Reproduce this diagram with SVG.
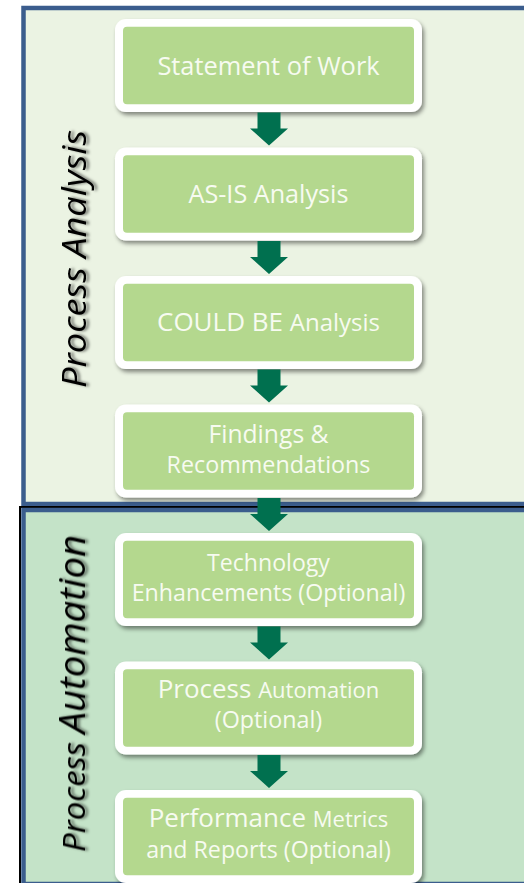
<svg xmlns="http://www.w3.org/2000/svg" xmlns:xlink="http://www.w3.org/1999/xlink" width="524" height="883" viewBox="0 0 524 883">
  <style>
    .box-outer { fill: #ffffff; }
    .box-inner { fill: #b4d88e; }
    .box-text { font-family: "Open Sans", "DejaVu Sans", sans-serif; fill: #f7fbf1; text-anchor: middle; }
    .side-text { font-family: "Open Sans", "DejaVu Sans", sans-serif; font-style: italic; fill: #000000; text-anchor: middle; }
    .arrow { fill: #00704f; }
  </style>
  <defs>
    <filter id="boxShadow" x="-10%" y="-10%" width="125%" height="135%">
      <feGaussianBlur in="SourceAlpha" stdDeviation="2"/>
      <feOffset dx="2" dy="3" result="off"/>
      <feFlood flood-color="#000" flood-opacity="0.45"/>
      <feComposite in2="off" operator="in"/>
      <feMerge><feMergeNode/><feMergeNode in="SourceGraphic"/></feMerge>
    </filter>
    <filter id="textShadow" x="-10%" y="-40%" width="120%" height="200%">
      <feGaussianBlur in="SourceAlpha" stdDeviation="1.6"/>
      <feOffset dx="0" dy="3" result="off"/>
      <feFlood flood-color="#000" flood-opacity="0.55"/>
      <feComposite in2="off" operator="in"/>
      <feMerge><feMergeNode/><feMergeNode in="SourceGraphic"/></feMerge>
    </filter>
    <!-- down arrow, tip at origin -->
    <path id="arr" class="arrow" d="M-11.5,-33 H11.5 V-17 H19 L0,0 L-19,-17 H-11.5 Z"/>
    <g id="boxShape">
      <rect class="box-outer" x="0" y="0" width="307" height="93" rx="11" filter="url(#boxShadow)"/>
      <rect class="box-inner" x="8" y="7.7" width="291" height="77.5" rx="4"/>
    </g>
  </defs>

  <!-- phase panels -->
  <g id="panel-analysis">
    <rect x="23.5" y="8" width="520" height="496" fill="#ebf3e3" stroke="#3b5d8d" stroke-width="4.5"/>
    <text class="side-text" transform="translate(86,259) rotate(-90)" font-size="32" textLength="258" lengthAdjust="spacingAndGlyphs" filter="url(#textShadow)">Process Analysis</text>
  </g>
  <g id="panel-automation">
    <rect x="20" y="507" width="520" height="380" fill="none" stroke="#000" stroke-width="2"/>
    <rect x="23.5" y="510" width="520" height="374" fill="#c4e3c8" stroke="#3b5d8d" stroke-width="4.5"/>
    <text class="side-text" transform="translate(85,693.5) rotate(-90)" textLength="317" lengthAdjust="spacingAndGlyphs" filter="url(#textShadow)"><tspan font-size="31">Process </tspan><tspan font-size="36">Automation</tspan></text>
  </g>

  <!-- steps -->
  <g id="statement-of-work">
    <use xlink:href="#boxShape" x="115" y="19"/>
    <text class="box-text" x="268.5" y="74.5" font-size="25.4">Statement of Work</text>
  </g>
  <g id="as-is-analysis">
    <use xlink:href="#boxShape" x="115" y="147.5"/>
    <text class="box-text" x="268.5" y="202.5" font-size="25.2">AS-IS Analysis</text>
  </g>
  <g id="could-be-analysis">
    <use xlink:href="#boxShape" x="115" y="276"/>
    <text class="box-text" x="268.5" y="331"><tspan font-size="26">COULD BE </tspan><tspan font-size="24">Analysis</tspan></text>
  </g>
  <g id="findings">
    <use xlink:href="#boxShape" x="115" y="404.5"/>
    <text class="box-text" x="268.5" y="442.5" font-size="24.7">Findings &amp;</text>
    <text class="box-text" x="268.5" y="472.5" font-size="23.3">Recommendations</text>
  </g>
  <g id="technology">
    <use xlink:href="#boxShape" x="115" y="533"/>
    <text class="box-text" x="268.5" y="570.5" font-size="23.1">Technology</text>
    <text class="box-text" x="268.5" y="600.5" font-size="23.2">Enhancements (Optional)</text>
  </g>
  <g id="process-automation">
    <use xlink:href="#boxShape" x="115" y="661.5"/>
    <text class="box-text" x="268.5" y="697.5"><tspan font-size="26">Process </tspan><tspan font-size="22">Automation</tspan></text>
    <text class="box-text" x="268.5" y="727.5" font-size="23.3">(Optional)</text>
  </g>
  <g id="performance-metrics">
    <use xlink:href="#boxShape" x="115" y="790"/>
    <text class="box-text" x="268.5" y="827"><tspan font-size="26">Performance </tspan><tspan font-size="22">Metrics</tspan></text>
    <text class="box-text" x="268.5" y="857.5" font-size="23.2">and Reports (Optional)</text>
  </g>

  <!-- connectors -->
  <g id="connectors">
    <use xlink:href="#arr" x="269" y="145.5"/>
    <use xlink:href="#arr" x="269" y="274"/>
    <use xlink:href="#arr" x="269" y="402.5"/>
    <use xlink:href="#arr" x="269" y="531"/>
    <use xlink:href="#arr" x="269" y="659.5"/>
    <use xlink:href="#arr" x="269" y="788"/>
  </g>
</svg>
